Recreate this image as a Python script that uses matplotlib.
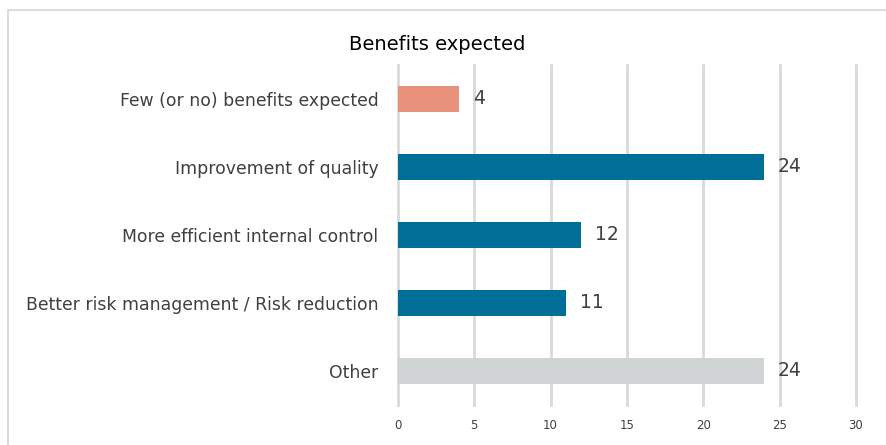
import matplotlib.pyplot as plt
from matplotlib.patches import Rectangle

categories = ['Few (or no) benefits expected', 'Improvement of quality',
              'More efficient internal control',
              'Better risk management / Risk reduction', 'Other']
values = [4, 24, 12, 11, 24]
colors = ['#e8927c', '#006f97', '#006f97', '#006f97', '#d0d3d4']
xticks = [0, 5, 10, 15, 20, 25, 30]

fig = plt.figure(figsize=(8.86, 4.45), dpi=100)
ax = fig.add_axes([0.449, 0.09, 0.517, 0.764])

# light frame around the chart, open to the right and bottom
fig.patches.append(Rectangle((8 / 886, -0.1), 1.2, 1 - 10 / 445 + 0.1,
                             transform=fig.transFigure, fill=False,
                             edgecolor='#d9d9d9', linewidth=1.3))

y = range(len(categories))
ax.barh(y, values, height=0.38, color=colors, zorder=3)
for yi, v in zip(y, values):
    ax.text(v + 0.9, yi, str(v), va='center', ha='left', fontsize=13.5,
            color='#404040')

ax.set_xlim(0, 30)
ax.set_ylim(len(categories) - 0.5, -0.5)
ax.set_xticks(xticks)
ax.set_xticklabels([str(t) for t in xticks], fontsize=8.5, color='#404040')
ax.set_yticks(list(y))
ax.set_yticklabels(categories, fontsize=12.4, color='#404040')
ax.tick_params(axis='y', length=0, pad=14)
ax.tick_params(axis='x', length=0, pad=10)
ax.grid(axis='x', color='#d9d9d9', linewidth=2, zorder=0)
for line in ax.get_xgridlines():
    line.set_clip_on(False)
for s in ax.spines.values():
    s.set_visible(False)

fig.text(0.494, 1 - 45 / 445, 'Benefits expected', ha='center', va='center',
         fontsize=14, color='#000000')

fig.savefig('out.png', dpi=100)
